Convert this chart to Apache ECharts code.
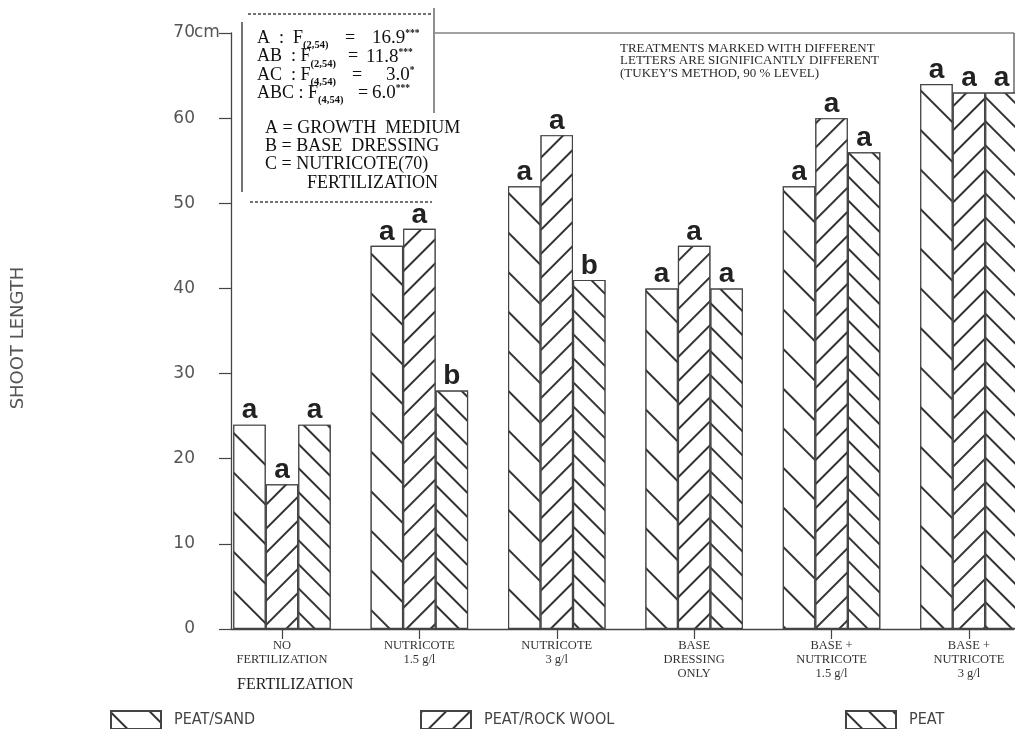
<!DOCTYPE html>
<html>
<head>
<meta charset="utf-8">
<script src="https://cdn.jsdelivr.net/npm/echarts@6/dist/echarts.min.js"></script>
<style>html,body{margin:0;padding:0;background:#fff}#c{width:1015px;height:729px}</style>
</head>
<body>
<div id="c"></div>
<script>
const categories = ['NO\nFERTILIZATION', 'NUTRICOTE\n1.5 g/l', 'NUTRICOTE\n3 g/l', 'BASE\nDRESSING\nONLY', 'BASE +\nNUTRICOTE\n1.5 g/l', 'BASE +\nNUTRICOTE\n3 g/l'];
const seriesNames = ['PEAT/SAND', 'PEAT/ROCK WOOL', 'PEAT'];
const peatSand = [24, 45, 52, 40, 52, 64];
const peatRockWool = [17, 47, 58, 45, 60, 63];
const peat = [24, 28, 41, 40, 56, 63];
const lettersSand = ['a', 'a', 'a', 'a', 'a', 'a'];
const lettersRockWool = ['a', 'a', 'a', 'a', 'a', 'a'];
const lettersPeat = ['a', 'b', 'b', 'a', 'a', 'a'];
const yTicks = [0, 10, 20, 30, 40, 50, 60, 70];
const catIdx = categories.map((c, i) => i);

const chart = echarts.init(document.getElementById('c'), null, {renderer: 'canvas'});
const ink = '#333';
function hatch(gap, rot) {
  return {symbol: 'rect', symbolSize: 1, dashArrayX: [1, 0], dashArrayY: [1.3, gap], rotation: rot, color: ink, backgroundColor: '#fff'};
}
function barSeries(name, vals, letters, decal) {
  return {
    name: name, type: 'bar', barWidth: 32.5, barGap: '0%', clip: false,
    data: vals.map((v, i) => [catIdx[i], v]),
    itemStyle: {color: '#fff', borderColor: '#444', borderWidth: 1.2, decal: decal},
    label: {show: true, position: 'top', distance: 0, formatter: p => letters[p.dataIndex],
      fontFamily: 'Liberation Sans', fontWeight: 'bold', fontSize: 28, color: '#222'}
  };
}
const serif = 'Liberation Serif';
const tc = '#111';
function statLine(y, left, sub, eqX, val, valX, sup) {
  return [
    {type: 'text', left: 257, top: y, style: {text: '{m|' + left + '}{s|' + sub + '}', rich: {
      m: {fontFamily: serif, fontSize: 18, lineHeight: 19, verticalAlign: 'top', fill: tc},
      s: {fontFamily: serif, fontSize: 10.5, lineHeight: 11, verticalAlign: 'top', padding: [11, 0, 0, 0], fill: tc, fontWeight: 'bold'}}}},
    {type: 'text', left: eqX, top: y, style: {text: '=', fontFamily: serif, fontSize: 18, fill: tc}},
    {type: 'text', left: valX, top: y, style: {text: '{m|' + val + '}{p|' + sup + '}', rich: {
      m: {fontFamily: serif, fontSize: 19, lineHeight: 19, verticalAlign: 'top', fill: tc},
      p: {fontFamily: serif, fontSize: 9.5, lineHeight: 10, verticalAlign: 'top', fill: tc, fontWeight: 'bold'}}}}
  ];
}
const lineStyle = {stroke: '#444', lineWidth: 1.2};
const legendBase = {icon: 'rect', itemWidth: 50, itemHeight: 18, top: 705, selectedMode: false,
  textStyle: {fontFamily: 'DejaVu Sans Condensed', fontSize: 16, color: '#444', padding: [0, 0, 0, 8]}};

const option = {
  animation: false,
  backgroundColor: '#fff',
  grid: {left: 231, right: 1, top: 33, bottom: 100, containLabel: false},
  xAxis: {
    type: 'value', min: -0.371, max: 5.328,
    axisLine: {show: true, onZero: false, lineStyle: {color: '#444', width: 1.3}},
    axisTick: {show: true, customValues: catIdx, length: 10, lineStyle: {color: '#444', width: 1.2}},
    axisLabel: {show: true, customValues: catIdx, formatter: v => categories[Math.round(v)], margin: 10,
      fontFamily: serif, fontSize: 12.5, lineHeight: 14, color: '#333'},
    splitLine: {show: false}
  },
  yAxis: {
    type: 'value', min: 0, max: 70, interval: 10,
    name: 'SHOOT LENGTH', nameLocation: 'middle', nameGap: 204, nameRotate: 90,
    nameTextStyle: {fontFamily: 'DejaVu Sans', fontSize: 18, color: '#555', padding: [0, 14, 0, 0]},
    axisLine: {show: true, onZero: false, lineStyle: {color: '#444', width: 1.3}},
    axisTick: {show: true, length: 12, lineStyle: {color: '#444', width: 1.2}},
    axisLabel: {margin: 36, fontFamily: 'DejaVu Sans', fontSize: 17, color: '#555', formatter: v => String(v)},
    splitLine: {show: false}
  },
  legend: [
    Object.assign({data: [seriesNames[0]], left: 105}, legendBase),
    Object.assign({data: [seriesNames[1]], left: 415}, legendBase),
    Object.assign({data: [seriesNames[2]], left: 840}, legendBase)
  ],
  series: [
    barSeries(seriesNames[0], peatSand, lettersSand, hatch(26, Math.PI / 4)),
    barSeries(seriesNames[1], peatRockWool, lettersRockWool, hatch(14.5, -Math.PI / 4)),
    barSeries(seriesNames[2], peat, lettersPeat, hatch(14.5, Math.PI / 4))
  ],
  graphic: [
    {type: 'line', shape: {x1: 435, y1: 33, x2: 1014, y2: 33}, style: lineStyle},
    {type: 'line', shape: {x1: 1014, y1: 33, x2: 1014, y2: 629}, style: lineStyle},
    {type: 'line', shape: {x1: 248, y1: 14, x2: 433, y2: 14}, style: {stroke: '#444', lineWidth: 1.3, lineDash: [3, 2]}},
    {type: 'line', shape: {x1: 250, y1: 202, x2: 432, y2: 202}, style: {stroke: '#444', lineWidth: 1.3, lineDash: [3, 2]}},
    {type: 'line', shape: {x1: 242, y1: 22, x2: 242, y2: 192}, style: {stroke: '#444', lineWidth: 1.5}},
    {type: 'line', shape: {x1: 434, y1: 8, x2: 434, y2: 113}, style: {stroke: '#444', lineWidth: 1.2}},
    {type: 'text', left: 194, top: 24, style: {text: 'cm', fontFamily: 'DejaVu Sans', fontSize: 17, fill: '#555'}},
    ...statLine(29, 'A  :  F', '(2,54)', 345, '16.9', 372, '***'),
    ...statLine(47.5, 'AB  : F', '(2,54)', 348, '11.8', 366, '***'),
    ...statLine(66, 'AC  : F', '(4,54)', 352, '3.0', 386, '*'),
    ...statLine(84, 'ABC : F', '(4,54)', 358, '6.0', 372, '***'),
    {type: 'text', left: 265, top: 119, style: {text: 'A = GROWTH  MEDIUM\nB = BASE  DRESSING\nC = NUTRICOTE(70)', fontFamily: serif, fontSize: 18, lineHeight: 18.3, fill: tc}},
    {type: 'text', left: 307, top: 174, style: {text: 'FERTILIZATION', fontFamily: serif, fontSize: 18, fill: tc}},
    {type: 'text', left: 620, top: 42, style: {text: 'TREATMENTS MARKED WITH DIFFERENT\nLETTERS ARE SIGNIFICANTLY DIFFERENT\n(TUKEY\'S METHOD, 90 % LEVEL)', fontFamily: serif, fontSize: 13, lineHeight: 12.5, fill: '#2a2a2a'}},
    {type: 'text', left: 237, top: 677, style: {text: 'FERTILIZATION', fontFamily: serif, fontSize: 16, fill: '#222'}}
  ]
};
chart.setOption(option);
</script>
</body>
</html>
